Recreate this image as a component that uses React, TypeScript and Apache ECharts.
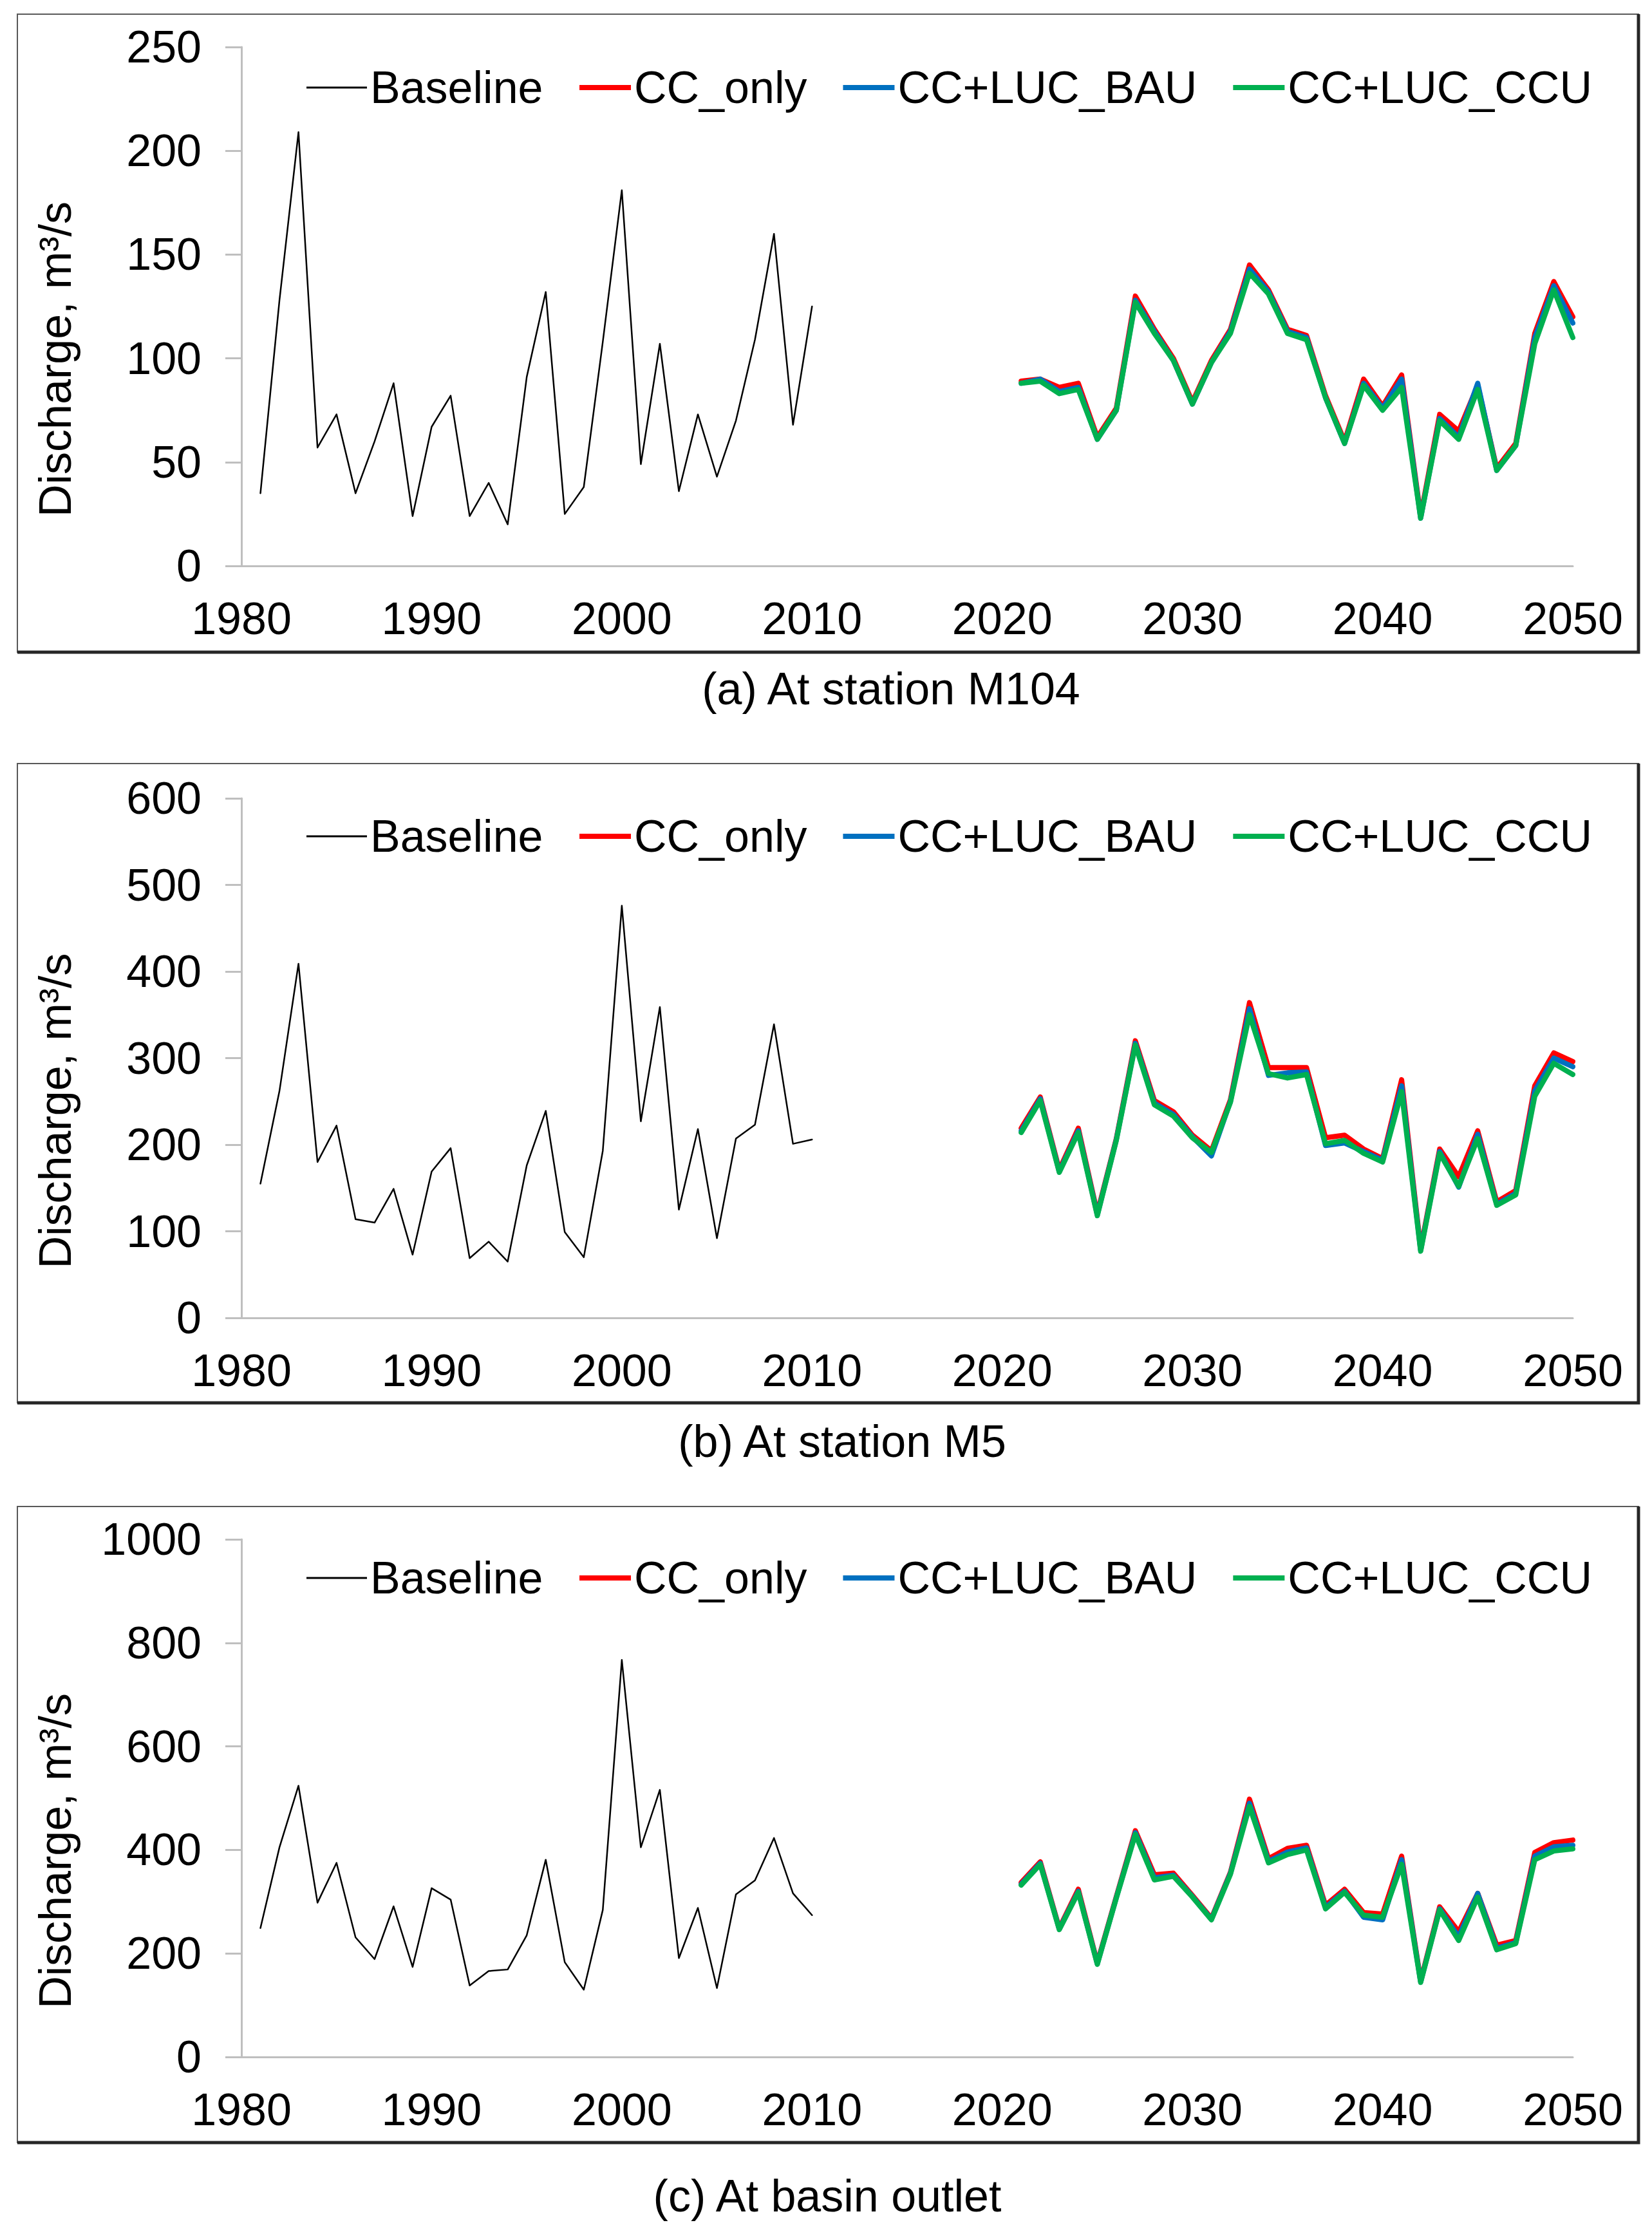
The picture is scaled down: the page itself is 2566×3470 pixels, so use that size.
import React, { useEffect, useRef } from "react";
import * as echarts from "echarts";

const baseYears = [1981,1982,1983,1984,1985,1986,1987,1988,1989,1990,1991,1992,1993,1994,1995,1996,1997,1998,1999,2000,2001,2002,2003,2004,2005,2006,2007,2008,2009,2010];
const projYears = [2021,2022,2023,2024,2025,2026,2027,2028,2029,2030,2031,2032,2033,2034,2035,2036,2037,2038,2039,2040,2041,2042,2043,2044,2045,2046,2047,2048,2049,2050];

const seriesNames = ["Baseline", "CC_only", "CC+LUC_BAU", "CC+LUC_CCU"];
const captions = ["(a) At station M104", "(b) At station M5", "(c) At basin outlet"];
const yAxisTitle = "Discharge, m³/s";
const yMax = [250, 600, 1000];
const yInterval = [50, 100, 200];

// Panel (a) M104
const baselineA = [35,128,209,57,73,35,60,88,24,67,82,24,40,20,91,132,25,38,108,181,49,107,36,73,43,70,109,160,68,125];
const ccOnlyA = [89,90,86,88,62,76,130,114,100,79,99,114,145,133,114,111,82,60,90,77,92,24,73,65,87,47,59,112,137,120];
const bauA = [88,90,84,86,61,75,128,113,99,78,98,113,143,132,113,110,81,59,88,76,90,23,71,62,88,46,58,110,135,117];
const ccuA = [88,89,83,85,61,75,127,112,99,78,98,112,141,131,112,109,81,59,87,75,86,23,70,61,85,46,58,107,133,110];

// Panel (b) M5
const baselineB = [155,262,409,180,222,114,110,149,73,169,196,69,88,65,176,239,99,70,193,476,227,359,125,218,92,207,223,339,201,206];
const ccOnlyB = [219,255,171,219,121,207,320,251,238,211,193,252,364,289,289,289,208,211,195,184,275,80,195,163,216,134,147,268,306,296];
const bauB = [216,253,169,216,119,206,317,248,235,209,187,250,357,280,283,284,199,202,192,182,268,78,192,151,212,131,144,262,300,290];
const ccuB = [214,251,168,214,118,205,315,246,233,208,191,249,350,282,277,281,201,205,190,180,261,77,190,152,207,130,142,256,294,281];

// Panel (c) basin outlet
const baselineC = [249,405,524,298,375,231,189,291,174,326,304,138,166,169,235,381,183,130,284,767,405,516,191,288,133,314,341,423,316,274];
const ccOnlyC = [337,377,249,324,182,310,437,352,355,312,268,357,498,383,403,409,293,324,279,276,388,147,290,242,316,216,225,395,414,419];
const bauC = [334,374,247,320,180,308,433,346,351,310,266,355,490,378,396,404,289,320,270,265,381,145,286,232,316,210,221,388,406,409];
const ccuC = [332,372,246,318,179,307,430,342,349,309,265,353,484,375,391,400,286,318,274,270,372,144,284,225,309,207,219,381,398,402];

const panels = [
  { base: baselineA, cc: ccOnlyA, bau: bauA, ccu: ccuA },
  { base: baselineB, cc: ccOnlyB, bau: bauB, ccu: ccuB },
  { base: baselineC, cc: ccOnlyC, bau: bauC, ccu: ccuC },
];

const W = 2566;
const H = 3470;
const FONT = "'Liberation Sans', Arial, sans-serif";
const FS = 70;
const gridTops = [73, 1240, 2391];
const gridHeights = [806, 807, 804];
const gridLeft = 375;
const gridWidth = 2068;
const frames = [
  { top: 22, bottom: 1013 },
  { top: 1186, bottom: 2179 },
  { top: 2340, bottom: 3328 },
];
const frameLeft = 27;
const frameRight = 2545;
const captionPos = [
  { x: 1384, y: 1070 },
  { x: 1308, y: 2239 },
  { x: 1285, y: 3411 },
];
const legendTops = [101, 1264, 2416];
const axisGray = "#BFBFBF";
const projWidth = 8;

export default function App() {
  const ref = useRef<HTMLDivElement>(null);
  useEffect(() => {
    document.body.style.margin = "0";
    if (!ref.current) return;
    const chart = echarts.init(ref.current, null, { renderer: "svg", width: W, height: H });

    const grids: any[] = [];
    const xAxes: any[] = [];
    const yAxes: any[] = [];
    const series: any[] = [];
    const legends: any[] = [];
    const graphics: any[] = [];
    const plain = (v: number) => String(v);

    panels.forEach((p, i) => {
      grids.push({ left: gridLeft, top: gridTops[i], width: gridWidth, height: gridHeights[i], containLabel: false });
      xAxes.push({
        type: "value",
        gridIndex: i,
        min: 1980,
        max: 2050,
        interval: 10,
        axisLine: { show: true, lineStyle: { color: axisGray, width: 3 } },
        axisTick: { show: false },
        splitLine: { show: false },
        axisLabel: { fontSize: FS, color: "#000", fontFamily: FONT, margin: 47, formatter: plain },
      });
      yAxes.push({
        type: "value",
        gridIndex: i,
        min: 0,
        max: yMax[i],
        interval: yInterval[i],
        axisLine: { show: true, lineStyle: { color: axisGray, width: 3 } },
        axisTick: { show: true, length: 25, lineStyle: { color: axisGray, width: 3 } },
        splitLine: { show: false },
        axisLabel: { fontSize: FS, color: "#000", fontFamily: FONT, margin: 62, formatter: plain },
      });
      const mk = (name: string, years: number[], vals: number[], color: string, width: number, z: number) => ({
        type: "line",
        name,
        xAxisIndex: i,
        yAxisIndex: i,
        data: years.map((y, k) => [y, vals[k]]),
        symbol: "none",
        showSymbol: false,
        lineStyle: { color, width, cap: "round", join: "round" },
        itemStyle: { color },
        z,
      });
      series.push(mk("Baseline", baseYears, p.base, "#000000", 2.5, 2));
      series.push(mk("CC_only", projYears, p.cc, "#FF0000", projWidth, 3));
      series.push(mk("CC+LUC_BAU", projYears, p.bau, "#0070C0", projWidth, 4));
      series.push(mk("CC+LUC_CCU", projYears, p.ccu, "#00B050", projWidth, 5));
      legends.push({
        top: legendTops[i],
        left: 476,
        padding: 0,
        icon: "rect",
        itemWidth: 94,
        itemHeight: 3,
        itemGap: 56,
        textStyle: { fontSize: FS, color: "#000", fontFamily: FONT },
        data: [seriesNames[0]],
        selectedMode: false,
      });
      legends.push({
        top: legendTops[i],
        left: 900,
        padding: 0,
        icon: "rect",
        itemWidth: 80,
        itemHeight: 8,
        itemGap: 56,
        textStyle: { fontSize: FS, color: "#000", fontFamily: FONT },
        data: seriesNames.slice(1),
        selectedMode: false,
      });

      const f = frames[i];
      graphics.push({
        type: "rect",
        shape: { x: frameLeft, y: f.top, width: frameRight - frameLeft, height: f.bottom - f.top },
        style: { fill: "none", stroke: "#595959", lineWidth: 2 },
        silent: true,
      });
      graphics.push({
        type: "polyline",
        shape: { points: [[frameLeft, f.bottom], [frameRight, f.bottom], [frameRight, f.top]] },
        style: { fill: "none", stroke: "#262626", lineWidth: 5 },
        silent: true,
      });
      graphics.push({
        type: "text",
        x: captionPos[i].x,
        y: captionPos[i].y,
        style: {
          text: captions[i],
          fontSize: FS,
          fontFamily: FONT,
          fill: "#000",
          align: "center",
          verticalAlign: "middle",
          textAlign: "center",
          textVerticalAlign: "middle",
        },
        silent: true,
      });
      graphics.push({
        type: "text",
        x: 86,
        y: gridTops[i] + gridHeights[i] / 2 + 82,
        rotation: Math.PI / 2,
        style: {
          text: yAxisTitle,
          fontSize: FS,
          fontFamily: FONT,
          fill: "#000",
          align: "center",
          verticalAlign: "middle",
          textAlign: "center",
          textVerticalAlign: "middle",
        },
        silent: true,
      });
    });

    chart.setOption({
      animation: false,
      backgroundColor: "#ffffff",
      textStyle: { fontFamily: FONT },
      grid: grids,
      xAxis: xAxes,
      yAxis: yAxes,
      legend: legends,
      series,
      graphic: { elements: graphics },
    });
    return () => chart.dispose();
  }, []);
  return <div ref={ref} style={{ width: W, height: H }} />;
}
